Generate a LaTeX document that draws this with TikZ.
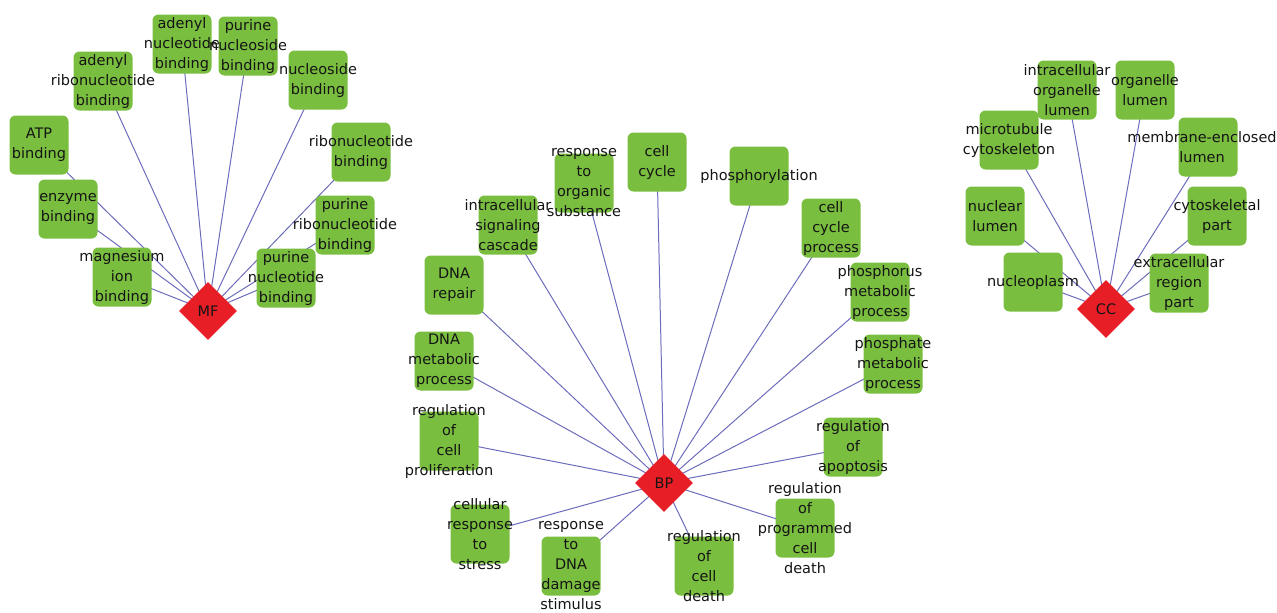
\documentclass[tikz,border=0pt]{standalone}
\usepackage{fontspec}
\setmainfont{DejaVu Sans}
\usetikzlibrary{shapes.geometric}
\definecolor{termgreen}{RGB}{122,190,64}
\definecolor{hubred}{RGB}{232,30,38}
\definecolor{edgeblue}{RGB}{108,108,188}
\definecolor{textdark}{RGB}{20,20,20}
\pgfdeclarelayer{bg}
\pgfsetlayers{bg,main}
\tikzset{
  termbox/.style={rectangle, rounded corners=6pt, fill=termgreen, minimum width=59pt, minimum height=59pt, inner sep=0pt},
  termtext/.style={align=center, inner sep=0pt, text=textdark, font={\fontsize{14.5}{20}\selectfont}},
  hub/.style={diamond, aspect=1, fill=hubred, minimum width=58pt, minimum height=58pt, inner sep=0pt, text=textdark, font={\fontsize{14.5}{20}\selectfont}},
  link/.style={draw=edgeblue, line width=1pt}
}
\newcommand\termnode[3]{\node[termbox] (#1) at (#2) {};\node[termtext] (#1-t) at (#1.center) {#3};}
\begin{document}
\begin{tikzpicture}[x=1pt,y=-1pt]
\useasboundingbox (0,0) rectangle (1277,613);
% ---------- MF ----------
\node[hub] (mf) at (208,311) {MF};
\termnode{mfA}{182,44}{adenyl\\nucleotide\\binding}
\termnode{mfB}{248,46}{purine\\nucleoside\\binding}
\termnode{mfC}{103,81}{adenyl\\ribonucleotide\\binding}
\termnode{mfD}{318,80}{nucleoside\\binding}
\termnode{mfE}{39,145}{ATP\\binding}
\termnode{mfF}{361,152}{ribonucleotide\\binding}
\termnode{mfG}{68,209}{enzyme\\binding}
\termnode{mfH}{345,225}{purine\\ribonucleotide\\binding}
\termnode{mfI}{122,277}{magnesium\\ion\\binding}
\termnode{mfJ}{286,278}{purine\\nucleotide\\binding}
% ---------- BP ----------
\node[hub] (bp) at (664,483) {BP};
\termnode{bpA}{584,183}{response\\to\\organic\\substance}
\termnode{bpB}{657,162}{cell\\cycle}
\termnode{bpC}{759,176}{phosphorylation}
\termnode{bpD}{508,225}{intracellular\\signaling\\cascade}
\termnode{bpE}{831,228}{cell\\cycle\\process}
\termnode{bpF}{454,285}{DNA\\repair}
\termnode{bpG}{880,292}{phosphorus\\metabolic\\process}
\termnode{bpH}{444,361}{DNA\\metabolic\\process}
\termnode{bpI}{893,364}{phosphate\\metabolic\\process}
\termnode{bpJ}{449,441}{regulation\\of\\cell\\proliferation}
\termnode{bpK}{853,447}{regulation\\of\\apoptosis}
\termnode{bpL}{805,528}{regulation\\of\\programmed\\cell\\death}
\termnode{bpM}{480,534}{cellular\\response\\to\\stress}
\termnode{bpN}{571,566}{response\\to\\DNA\\damage\\stimulus}
\termnode{bpO}{704,566}{regulation\\of\\cell\\death}
% ---------- CC ----------
\node[hub] (cc) at (1106,309) {CC};
\termnode{ccA}{1067,90}{intracellular\\organelle\\lumen}
\termnode{ccB}{1145,90}{organelle\\lumen}
\termnode{ccC}{1009,140}{microtubule\\cytoskeleton}
\node[termbox] (ccD) at (1208,147) {};
\node[termtext] (ccD-t) at (1202,147) {membrane-enclosed\\lumen};
\termnode{ccE}{995,216}{nuclear\\lumen}
\termnode{ccF}{1217,216}{cytoskeletal\\part}
\termnode{ccG}{1033,282}{nucleoplasm}
\termnode{ccH}{1179,283}{extracellular\\region\\part}
% ---------- edges ----------
\begin{pgfonlayer}{bg}
\foreach \t in {mfA,mfB,mfC,mfD,mfE,mfF,mfG,mfH,mfI,mfJ}
  \draw[link] (mf.center) -- (\t.center);
\foreach \t in {bpA,bpB,bpC,bpD,bpE,bpF,bpG,bpH,bpI,bpJ,bpK,bpL,bpM,bpN,bpO}
  \draw[link] (bp.center) -- (\t.center);
\foreach \t in {ccA,ccB,ccC,ccD,ccE,ccF,ccG,ccH}
  \draw[link] (cc.center) -- (\t.center);
\end{pgfonlayer}
\end{tikzpicture}
\end{document}
